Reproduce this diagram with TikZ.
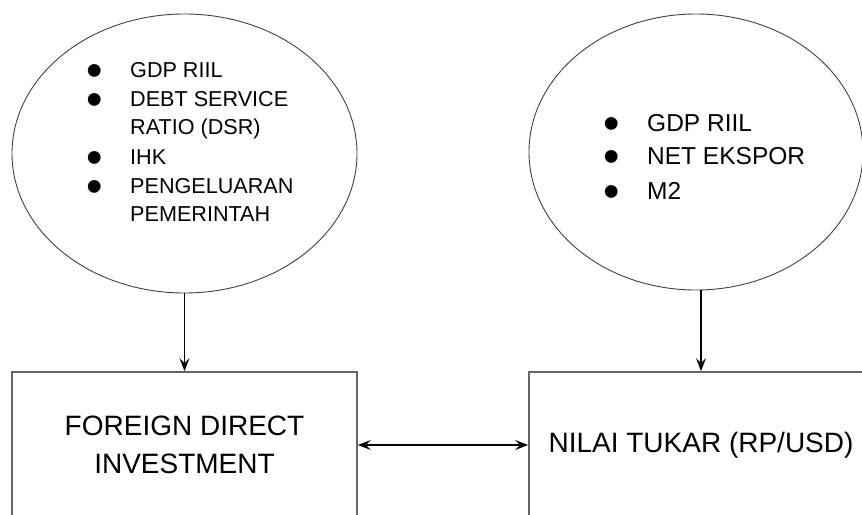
\documentclass[tikz,border=0pt]{standalone}
\usepackage{fontspec}
\setmainfont{Liberation Sans}
\usetikzlibrary{arrows.meta,shapes.geometric}
\begin{document}
\begin{tikzpicture}[x=1pt,y=-1pt,
  ell/.style={draw=black!75,line width=0.9pt,ellipse,inner sep=0pt},
  boxnode/.style={draw=black!60,line width=1.8pt,rectangle,inner sep=0pt,align=center,font=\fontsize{28}{38}\selectfont},
  conn/.style={line width=1.7pt,-{Stealth[length=13pt,width=10pt,inset=5pt]}},
  lt/.style={anchor=base west,inner sep=0pt,font=\fontsize{21.6}{26}\selectfont},
  rt/.style={anchor=base west,inner sep=0pt,font=\fontsize{24.5}{30}\selectfont},
  bl/.style={anchor=base,inner sep=0pt,font=\fontsize{47}{50}\selectfont}]
\useasboundingbox (0,0) rectangle (862,514);
\clip (0,0) rectangle (862,514);
% ellipses
\node[ell,minimum width=345pt,minimum height=279pt] (lell) at (184.5,153.5) {};
\node[ell,minimum width=334pt,minimum height=276pt] (rell) at (696,152) {};
% left list
\foreach \y/\t/\b/\n in {77/GDP RIIL/1/a,106/DEBT SERVICE/1/b,134.5/RATIO (DSR)/0/c,164/IHK/1/d,193/PENGELUARAN/1/e,221.5/PEMERINTAH/0/f}{
  \node[lt] (l\n) at (130,\y) {\t};
  \ifnum\b=1 \node[bl] (lb\n) at (94.7,\y+9.3) {\smash{•}};\fi
}
% right list
\foreach \y/\t/\n in {131/GDP RIIL/a,164/NET EKSPOR/b,199/M2/c}{
  \node[rt] (r\n) at (647,\y) {\t};
  \node[bl] (rb\n) at (611.7,\y+8.3) {\smash{•}};
}
% boxes
\node[boxnode,minimum width=345pt,minimum height=146pt] (fdi) at (184.5,445) {FOREIGN DIRECT\\INVESTMENT};
\node[boxnode,minimum width=344pt,minimum height=146pt] (nt) at (701,445) {NILAI TUKAR (RP/USD)};
% connectors
\draw[conn] (lell.south) -- (fdi.north);
\draw[conn] (rell.south -| nt.north) -- (nt.north);
\draw[line width=1.7pt,{Stealth[length=13pt,width=10pt,inset=5pt]}-{Stealth[length=13pt,width=10pt,inset=5pt]}] (fdi.east) -- (nt.west);
\end{tikzpicture}
\end{document}
